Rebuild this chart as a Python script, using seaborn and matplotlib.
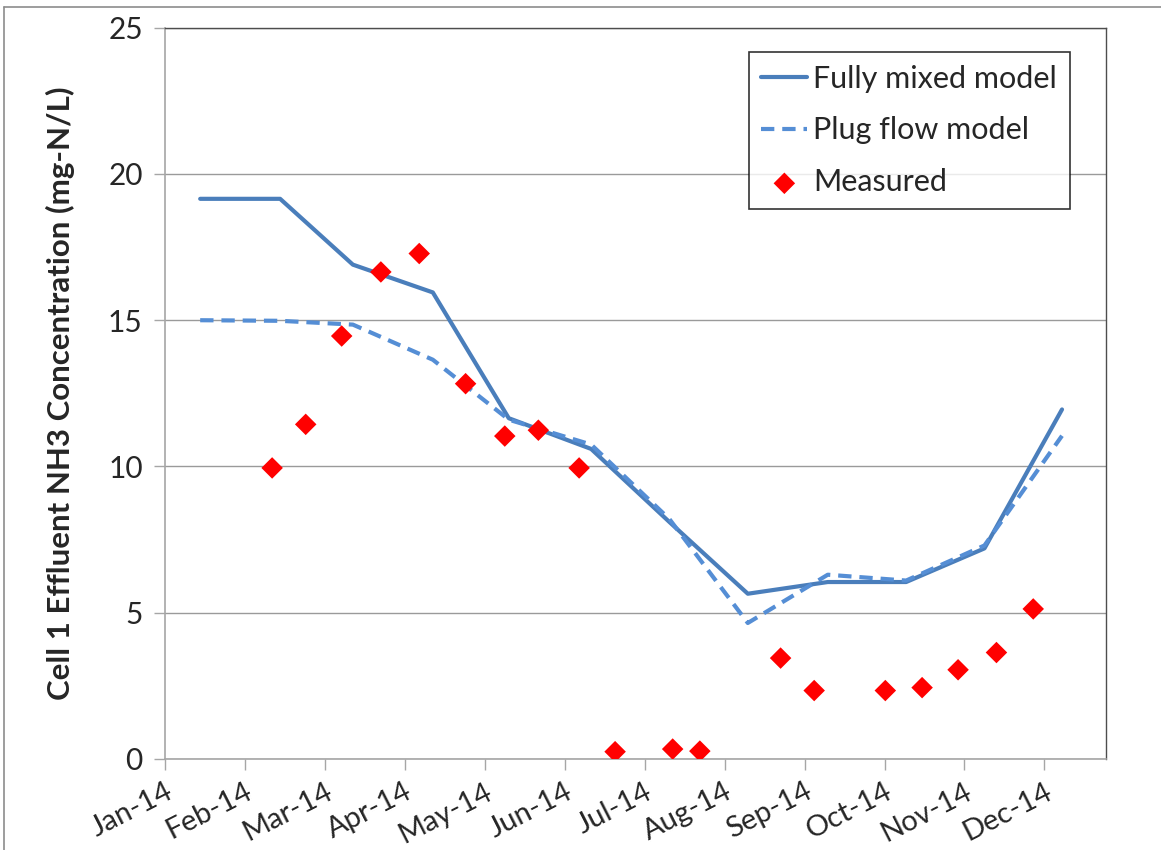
import matplotlib
matplotlib.use("Agg")
import matplotlib.pyplot as plt
from matplotlib.lines import Line2D
import seaborn as sns
import pandas as pd

# Months since 1 Jan 2014 (tick k = first of month k+1)
month_labels = ["Jan-14", "Feb-14", "Mar-14", "Apr-14", "May-14", "Jun-14",
                "Jul-14", "Aug-14", "Sep-14", "Oct-14", "Nov-14", "Dec-14"]

# Model outputs, one value per month
model_month = [0.44, 1.44, 2.35, 3.35, 4.30, 5.33, 6.31, 7.29, 8.29, 9.27, 10.25, 11.22]
fully_mixed = [19.15, 19.15, 16.90, 15.95, 11.65, 10.60, 8.10, 5.65, 6.05, 6.05, 7.20, 11.95]
plug_flow = [15.00, 14.98, 14.85, 13.65, 11.60, 10.75, 8.20, 4.65, 6.30, 6.10, 7.30, 11.05]

# Field samples
measured_month = [1.34, 1.76, 2.21, 2.70, 3.18, 3.76, 4.25, 4.67, 5.18, 5.63,
                  6.35, 6.69, 7.70, 8.12, 9.01, 9.47, 9.92, 10.40, 10.86]
measured = [9.95, 11.44, 14.46, 16.65, 17.28, 12.83, 11.04, 11.24, 9.95, 0.25,
            0.34, 0.27, 3.45, 2.34, 2.34, 2.44, 3.05, 3.64, 5.13]

models = pd.DataFrame({"month": model_month, "fully": fully_mixed, "plug": plug_flow})
samples = pd.DataFrame({"month": measured_month, "nh3": measured})

sns.set_style("white")
plt.rcParams["font.family"] = ["Lato", "DejaVu Sans"]

W, H = 1161, 850
fig = plt.figure(figsize=(W / 100, H / 100), dpi=100)
ax = fig.add_axes([165 / W, 1 - 759 / H, (1106.3 - 165) / W, (759 - 27.7) / H])

solid_c = "#4A7EBB"
dash_c = "#558ED5"

sns.lineplot(data=models, x="month", y="fully", ax=ax, color=solid_c,
             linewidth=3.0, label="Fully mixed model", solid_capstyle="round")
sns.lineplot(data=models, x="month", y="plug", ax=ax, color=dash_c,
             linewidth=3.0, linestyle=(0, (3.2, 1.9)), label="Plug flow model")
sns.scatterplot(data=samples, x="month", y="nh3", ax=ax, marker="D", s=120,
                color="#FF0000", edgecolor="none", label="Measured", zorder=5)

ax.set_xlim(0, 11.774)
ax.set_ylim(0, 25)
ax.set_xticks(range(len(month_labels)))
ax.set_xticklabels(month_labels, rotation=27, ha="right", va="top",
                   rotation_mode="anchor", fontsize=21)
ax.set_yticks([0, 5, 10, 15, 20, 25])
ax.tick_params(axis="y", labelsize=21.5, length=8, width=1, color="#A6A6A6",
               direction="out", pad=8, left=True)
ax.tick_params(axis="x", length=8, width=1, color="#A6A6A6",
               direction="out", pad=6, bottom=True)

ax.yaxis.grid(True, color="#9A9A9A", linewidth=1)
ax.xaxis.grid(False)
ax.set_axisbelow(True)

for side in ("left", "bottom"):
    ax.spines[side].set_color("#A6A6A6")
    ax.spines[side].set_linewidth(1.2)
for side in ("top", "right"):
    ax.spines[side].set_color("#4D4D4D")
    ax.spines[side].set_linewidth(1.0)

ax.set_xlabel("")
ax.set_ylabel("Cell 1 Effluent NH3 Concentration (mg-N/L)", fontsize=22.5,
              fontweight="bold", labelpad=24)

leg = ax.legend(loc="upper left", bbox_to_anchor=(0.620, 0.967), borderaxespad=0,
                fontsize=22, frameon=True, fancybox=False, handlelength=1.5,
                handletextpad=0.2, labelspacing=0.78, borderpad=0.42)
leg.get_frame().set_edgecolor("#000000")
leg.get_frame().set_linewidth(1.2)

# Outer chart border
fig.add_artist(Line2D([4 / W, 1.0], [1 - 7 / H, 1 - 7 / H], transform=fig.transFigure,
                      color="#8C8C8C", linewidth=1.2))
fig.add_artist(Line2D([4 / W, 4 / W], [0.0, 1 - 7 / H], transform=fig.transFigure,
                      color="#8C8C8C", linewidth=1.2))

fig.savefig("out.png", dpi=100, facecolor="white")
